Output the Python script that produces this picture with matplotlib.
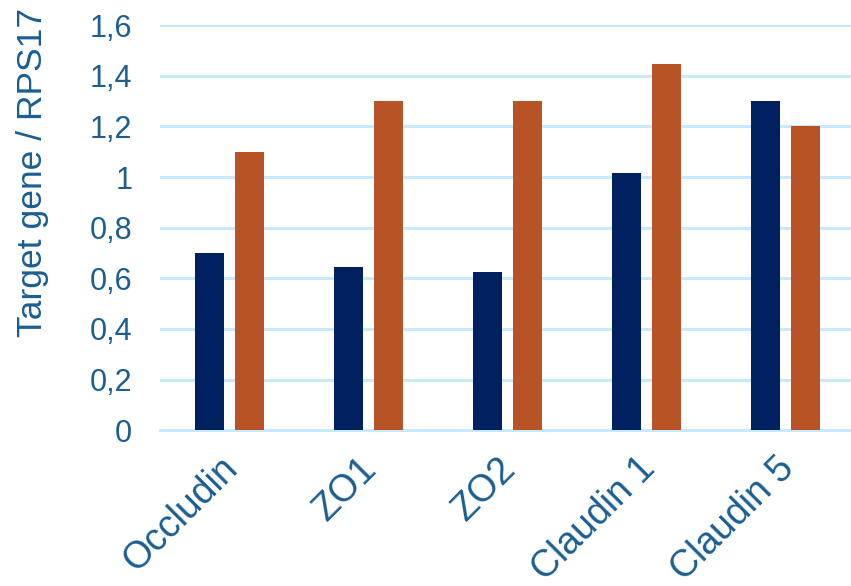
import matplotlib.pyplot as plt
import numpy as np

plt.rcParams['font.family'] = ['Liberation Sans', 'DejaVu Sans']

# Expression relative to RPS17
genes = ['Occludin', 'ZO1', 'ZO2', 'Claudin 1', 'Claudin 5']
series_a = [0.70, 0.645, 0.625, 1.015, 1.30]
series_b = [1.10, 1.30, 1.30, 1.447, 1.20]
yticks = [0, 0.2, 0.4, 0.6, 0.8, 1.0, 1.2, 1.4, 1.6]
ytick_labels = ['0', '0,2', '0,4', '0,6', '0,8', '1', '1,2', '1,4', '1,6']

text_color = '#1a5e92'
grid_color = '#c8e8fb'

fig = plt.figure(figsize=(8.51, 5.86), dpi=100)
ax = fig.add_axes([0.188, 0.266, 0.812, 0.691])

x = np.arange(len(genes))
w = 0.21
off = 0.144
ax.bar(x - off, series_a, w, color='#002060', zorder=3)
ax.bar(x + off, series_b, w, color='#b85325', zorder=3)

ax.set_ylim(0, 1.6)
ax.set_xlim(-0.5, 4.47)
ax.set_yticks(yticks)
ax.set_yticklabels(ytick_labels)
ax.set_xticks(x)
ax.set_xticklabels([])

# slanted category labels, set a bit left of each group centre
for i, g in enumerate(genes):
    ax.annotate(g, xy=(i, 0), xycoords=('data', 'axes fraction'),
                xytext=(-7, -14.5), textcoords='offset points',
                rotation=45, ha='right', va='top', rotation_mode='anchor',
                fontsize=27, color=text_color)

ax.yaxis.grid(True, color=grid_color, linewidth=2.2, zorder=0)
ax.set_axisbelow(True)
for s in ['top', 'right', 'left']:
    ax.spines[s].set_visible(False)
ax.spines['bottom'].set_color(grid_color)
ax.spines['bottom'].set_linewidth(2.2)

ax.tick_params(axis='y', length=0, pad=20, labelsize=22, labelcolor=text_color)
ax.tick_params(axis='x', length=0)

ax.set_ylabel('Target gene / RPS17', fontsize=25.5, color=text_color)
ax.yaxis.set_label_coords(-0.161, 0.637)

fig.savefig('out.png', dpi=100)
